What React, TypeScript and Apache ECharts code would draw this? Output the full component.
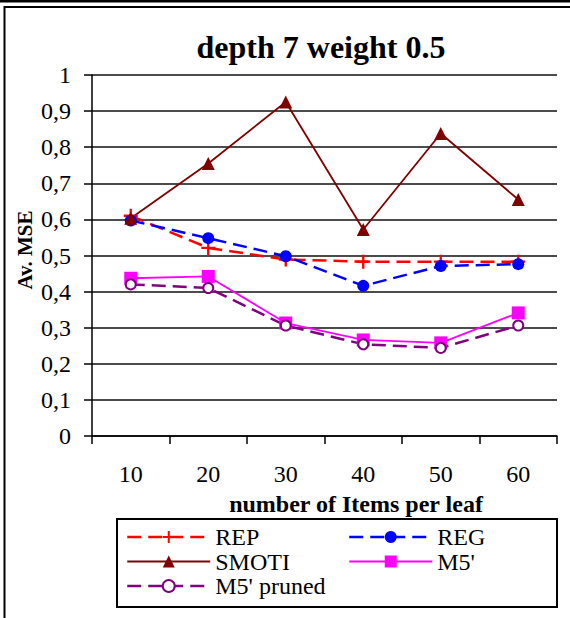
import React, { useEffect, useRef } from 'react';
import * as echarts from 'echarts';

const categories = ['10', '20', '30', '40', '50', '60'];
const repValues = [0.61, 0.521, 0.489, 0.483, 0.483, 0.483];
const regValues = [0.597, 0.548, 0.498, 0.416, 0.471, 0.476];
const smotiValues = [0.603, 0.755, 0.925, 0.572, 0.838, 0.655];
const m5Values = [0.437, 0.442, 0.313, 0.266, 0.258, 0.341];
const m5PrunedValues = [0.42, 0.41, 0.306, 0.254, 0.244, 0.306];

const titleText = 'depth 7 weight 0.5';
const xName = 'number of Items per leaf';
const yName = 'Av. MSE';

export default function App() {
  const ref = useRef<HTMLDivElement>(null);
  useEffect(() => {
    const chart = echarts.init(ref.current!, null, { renderer: 'svg' });
    const font = 'Liberation Serif, serif';
    const dash = [14, 7];
    const plus = 'path://M5,0 H7 V5 H12 V7 H7 V12 H5 V7 H0 V5 H5 Z';
    const legendCommon = {
      orient: 'vertical' as const,
      top: 525,
      padding: 0,
      itemWidth: 83,
      itemHeight: 15,
      itemGap: 0.5,
      selectedMode: false,
      lineStyle: { width: 'inherit' as any },
      textStyle: { fontFamily: font, fontSize: 24, lineHeight: 24, color: '#000' },
    };
    chart.setOption({
      animation: false,
      backgroundColor: '#fff',
      textStyle: { fontFamily: font },
      grid: { left: 92, right: 13, top: 75, bottom: 182, containLabel: false },
      legend: [
        { ...legendCommon, left: 126, data: ['REP', 'SMOTI', "M5' pruned"] },
        { ...legendCommon, left: 348, data: ['REG', "M5'"] },
      ],
      xAxis: {
        type: 'category',
        data: categories,
        boundaryGap: true,
        axisLine: { lineStyle: { color: '#000', width: 1.5 } },
        axisTick: { show: true, length: 8, lineStyle: { color: '#000', width: 1.5 } },
        axisLabel: { color: '#000', fontFamily: font, fontSize: 24, margin: 26 },
        splitLine: { show: false },
      },
      yAxis: {
        type: 'value',
        min: 0,
        max: 1,
        interval: 0.1,
        axisLine: { show: true, lineStyle: { color: '#000', width: 1.5 } },
        axisTick: { show: true, length: 8, lineStyle: { color: '#000', width: 1.5 } },
        axisLabel: {
          color: '#000',
          fontFamily: font,
          fontSize: 24,
          margin: 21,
          formatter: (v: number) => String(Math.round(v * 10) / 10).replace('.', ','),
        },
        splitLine: { show: true, lineStyle: { color: '#111', width: 1.5 } },
      },
      series: [
        {
          name: 'REP',
          type: 'line',
          data: repValues,
          symbol: plus,
          symbolSize: 14,
          lineStyle: { color: '#ff0000', width: 2.5, type: dash },
          itemStyle: { color: '#ff0000' },
        },
        {
          name: 'REG',
          type: 'line',
          data: regValues,
          symbol: 'circle',
          symbolSize: 12,
          lineStyle: { color: '#0000ff', width: 2.5, type: dash },
          itemStyle: { color: '#0000ff' },
        },
        {
          name: 'SMOTI',
          type: 'line',
          data: smotiValues,
          symbol: 'triangle',
          symbolSize: 13,
          lineStyle: { color: '#800000', width: 1.8, type: 'solid' },
          itemStyle: { color: '#800000' },
        },
        {
          name: "M5'",
          type: 'line',
          data: m5Values,
          symbol: 'rect',
          symbolSize: 13,
          lineStyle: { color: '#ff00ff', width: 1.8, type: 'solid' },
          itemStyle: { color: '#ff00ff' },
        },
        {
          name: "M5' pruned",
          type: 'line',
          data: m5PrunedValues,
          symbol: 'emptyCircle',
          symbolSize: 10,
          lineStyle: { color: '#800080', width: 2.5, type: dash },
          itemStyle: { color: '#800080', borderWidth: 2 },
        },
      ],
      graphic: [
        { type: 'line', shape: { x1: 0, y1: 1.2, x2: 570, y2: 1.2 }, style: { stroke: '#000', lineWidth: 2.5 } },
        { type: 'rect', shape: { x: 4.5, y: 7, width: 700, height: 700 }, style: { stroke: '#000', lineWidth: 2, fill: 'none' } },
        {
          type: 'text', x: 321, y: 47,
          style: { text: titleText, fontFamily: font, fontSize: 32, fontWeight: 'bold', fill: '#000', align: 'center', verticalAlign: 'middle' },
        },
        {
          type: 'text', x: 25, y: 250, rotation: Math.PI / 2,
          style: { text: yName, fontFamily: font, fontSize: 21, fontWeight: 'bold', fill: '#000', align: 'center', verticalAlign: 'middle' },
        },
        {
          type: 'text', x: 356, y: 504,
          style: { text: xName, fontFamily: font, fontSize: 24, fontWeight: 'bold', fill: '#000', align: 'center', verticalAlign: 'middle' },
        },
        { type: 'rect', shape: { x: 117, y: 519, width: 440, height: 88 }, style: { stroke: '#000', lineWidth: 2, fill: 'none' } },
      ],
    });
    return () => chart.dispose();
  }, []);
  return (
    <div
      ref={ref}
      style={{ position: 'absolute', left: 0, top: 0, width: 570, height: 618, background: '#fff' }}
    />
  );
}
